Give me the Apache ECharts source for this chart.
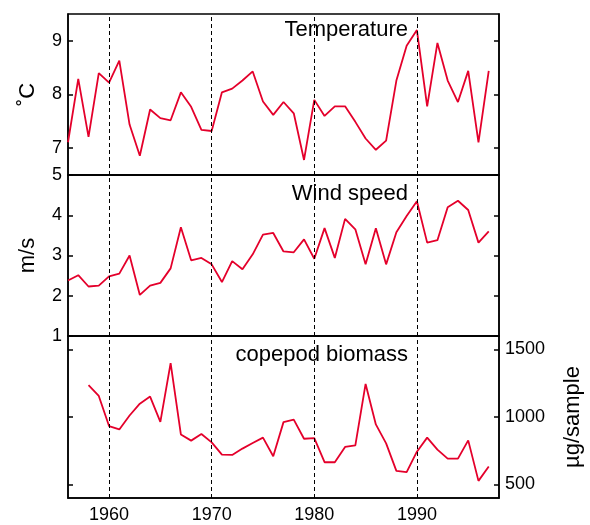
<!DOCTYPE html>
<html>
<head>
<meta charset="utf-8">
<script src="https://cdn.jsdelivr.net/npm/echarts@6/dist/echarts.min.js"></script>
<style>
  html, body { margin: 0; padding: 0; background: #fff; }
  #chart { width: 590px; height: 525px; }
</style>
</head>
<body>
<div id="chart"></div>
<script>
// years of the record
const years = [1956, 1957, 1958, 1959, 1960, 1961, 1962, 1963, 1964, 1965,
  1966, 1967, 1968, 1969, 1970, 1971, 1972, 1973, 1974, 1975,
  1976, 1977, 1978, 1979, 1980, 1981, 1982, 1983, 1984, 1985,
  1986, 1987, 1988, 1989, 1990, 1991, 1992, 1993, 1994, 1995,
  1996, 1997]

// temperature, °C
const temperature = [7.11, 8.29, 7.21, 8.40, 8.22, 8.63, 7.44, 6.86, 7.72, 7.56,
  7.52, 8.04, 7.77, 7.34, 7.32, 8.04, 8.11, 8.26, 8.43, 7.87,
  7.62, 7.86, 7.65, 6.78, 7.90, 7.60, 7.78, 7.78, 7.49, 7.18,
  6.97, 7.14, 8.26, 8.91, 9.20, 7.78, 8.96, 8.26, 7.86, 8.44,
  7.11, 8.44]

// wind speed, m/s
const windSpeed = [2.38, 2.51, 2.23, 2.25, 2.48, 2.55, 3.00, 2.02, 2.25, 2.32,
  2.68, 3.70, 2.88, 2.94, 2.78, 2.34, 2.86, 2.66, 3.03, 3.52,
  3.56, 3.10, 3.08, 3.40, 2.92, 3.68, 2.94, 3.91, 3.65, 2.78,
  3.68, 2.78, 3.58, 3.98, 4.35, 3.32, 3.38, 4.20, 4.36, 4.13,
  3.32, 3.60]

// copepod biomass, µg/sample (no data for 1956-57)
const copepod = [null, null, 1236, 1156, 933, 908, 1011, 1099, 1151, 964,
  1399, 871, 825, 874, 812, 721, 719, 766, 807, 847,
  709, 962, 981, 839, 844, 665, 665, 778, 790, 1245,
  945, 805, 601, 591, 743, 847, 758, 692, 692, 827,
  527, 633]

const decadeLines = [1960, 1970, 1980, 1990]
const tempTicks = [7, 8, 9]
const copepodTicks = [500, 1000, 1500]

const font = 'Liberation Sans, Arial, sans-serif'
const red = '#e4002b'

const chart = echarts.init(document.getElementById('chart'))

const pairs = vals => years.map((y, i) => [y, vals[i]])
const plain = v => String(v)

const grids = [
  { left: 68, width: 431, top: 14, height: 161 },
  { left: 68, width: 431, top: 175, height: 161 },
  { left: 68, width: 431, top: 336, height: 162 },
].map(g => Object.assign(g, {
  show: true, borderColor: '#000', borderWidth: 1.5,
  containLabel: false, outerBoundsMode: 'none',
}))

const axisLine = { show: true, onZero: false, lineStyle: { color: '#000', width: 1.5 } }
const tick = { show: true, inside: true, length: 5, lineStyle: { color: '#000', width: 1.5 } }
const label = { color: '#000', fontFamily: font, fontSize: 18, margin: 6, formatter: plain }
const nameStyle = { color: '#000', fontFamily: font, fontSize: 22 }

const xAxes = [0, 1, 2].map(i => ({
  type: 'value',
  gridIndex: i,
  min: 1956,
  max: 1998,
  axisLine: axisLine,
  splitLine: { show: false },
  axisTick: { show: false },
  axisLabel: {
    show: i === 2,
    customValues: decadeLines,
    color: '#000',
    fontFamily: font,
    fontSize: 18,
    margin: 8,
    formatter: plain,
  },
}))

// left and right y axes for each panel (right ones mirror the ticks)
const yAxes = [
  // temperature
  {
    type: 'value', gridIndex: 0, min: 6.5, max: 9.5, position: 'left',
    name: '˚C', nameLocation: 'middle', nameGap: 29, nameRotate: 90, nameTextStyle: nameStyle,
    axisLine: axisLine, splitLine: { show: false },
    axisTick: Object.assign({ customValues: tempTicks }, tick),
    axisLabel: Object.assign({ customValues: tempTicks }, label),
  },
  {
    type: 'value', gridIndex: 0, min: 6.5, max: 9.5, position: 'right',
    axisLine: axisLine, splitLine: { show: false },
    axisTick: Object.assign({ customValues: tempTicks }, tick),
    axisLabel: { show: false, customValues: tempTicks },
  },
  // wind speed
  {
    type: 'value', gridIndex: 1, min: 1, max: 5, interval: 1, position: 'left',
    name: 'm/s', nameLocation: 'middle', nameGap: 29, nameRotate: 90, nameTextStyle: nameStyle,
    axisLine: axisLine, splitLine: { show: false },
    axisTick: tick, axisLabel: label,
  },
  {
    type: 'value', gridIndex: 1, min: 1, max: 5, interval: 1, position: 'right',
    axisLine: axisLine, splitLine: { show: false },
    axisTick: tick, axisLabel: { show: false },
  },
  // copepod biomass
  {
    type: 'value', gridIndex: 2, min: 400, max: 1600, position: 'left',
    axisLine: axisLine, splitLine: { show: false },
    axisTick: Object.assign({ customValues: copepodTicks }, tick),
    axisLabel: { show: false, customValues: copepodTicks },
  },
  {
    type: 'value', gridIndex: 2, min: 400, max: 1600, position: 'right',
    name: 'µg/sample', nameLocation: 'middle', nameGap: 63, nameRotate: 90, nameTextStyle: nameStyle,
    axisLine: axisLine, splitLine: { show: false },
    axisTick: Object.assign({ customValues: copepodTicks }, tick),
    axisLabel: Object.assign({ customValues: copepodTicks }, label),
  },
]

const decadeMarks = {
  silent: true,
  symbol: ['none', 'none'],
  label: { show: false },
  lineStyle: { color: '#000', type: [4, 3], width: 1 },
  data: decadeLines.map(y => ({ xAxis: y })),
}

const lineSeries = (vals, xi, yi) => ({
  type: 'line',
  xAxisIndex: xi,
  yAxisIndex: yi,
  data: pairs(vals),
  showSymbol: false,
  connectNulls: false,
  lineStyle: { color: red, width: 1.8 },
  itemStyle: { color: red },
  markLine: decadeMarks,
  z: 3,
})

const titleStyle = { color: '#000', fontFamily: font, fontSize: 22, fontWeight: 'normal' }

chart.setOption({
  animation: false,
  title: [
    { text: 'Temperature', right: 182, top: 19, padding: 0, textStyle: titleStyle },
    { text: 'Wind speed', right: 182, top: 183, padding: 0, textStyle: titleStyle },
    { text: 'copepod biomass', right: 182, top: 344, padding: 0, textStyle: titleStyle },
  ],
  grid: grids,
  xAxis: xAxes,
  yAxis: yAxes,
  series: [
    lineSeries(temperature, 0, 0),
    lineSeries(windSpeed, 1, 2),
    lineSeries(copepod, 2, 5),
  ],
})
</script>
</body>
</html>
